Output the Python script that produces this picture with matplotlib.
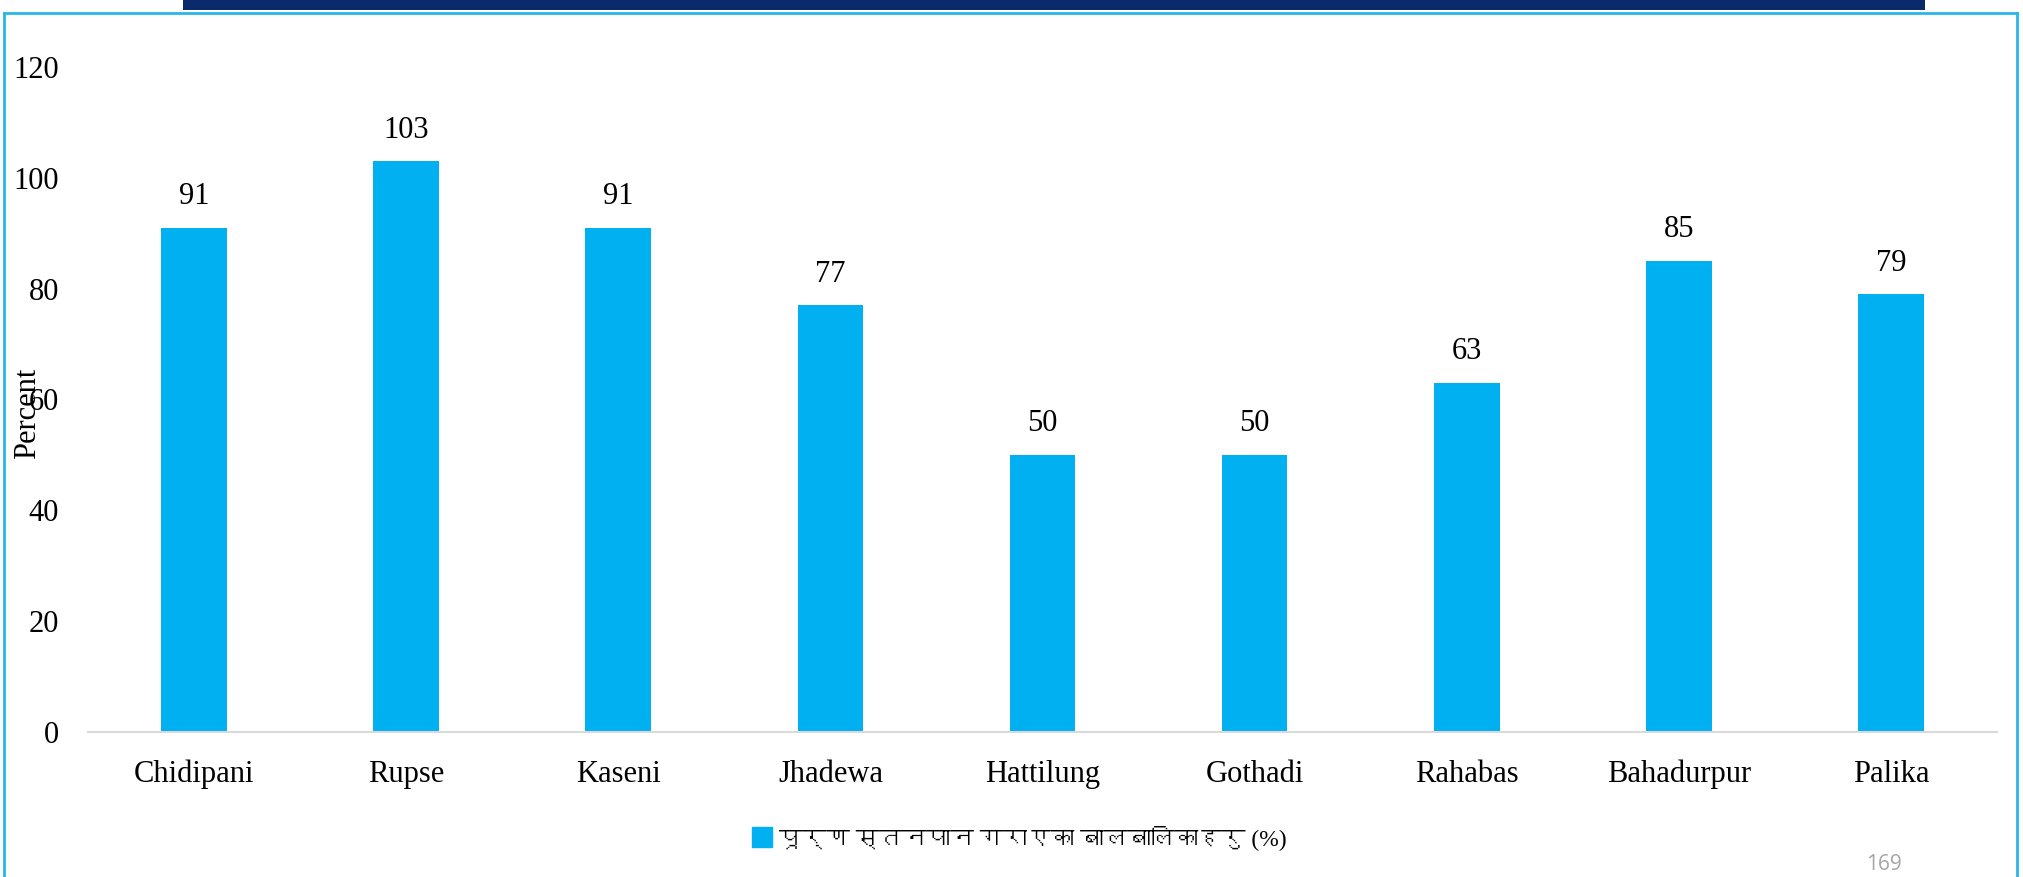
import matplotlib
matplotlib.use("Agg")
import matplotlib.pyplot as plt
from matplotlib import font_manager
from matplotlib.ft2font import FT2Font
from matplotlib.patches import Rectangle
from matplotlib.lines import Line2D

categories = ["Chidipani", "Rupse", "Kaseni", "Jhadewa", "Hattilung",
              "Gothadi", "Rahabas", "Bahadurpur", "Palika"]
values = [91, 103, 91, 77, 50, 50, 63, 85, 79]
yticks = [0, 20, 40, 60, 80, 100, 120]
series_name = "पूर्ण स्तनपान गराएका बालबालिकाहरु (%)"
y_label = "Percent"
page_no = "169"

W, H = 2023, 877
SERIF = "Liberation Serif"


def find_font(ch):
    for f in font_manager.fontManager.ttflist:
        try:
            ft = FT2Font(f.fname)
            if ft.get_char_index(ord(ch)):
                return f.name
        except Exception:
            pass
    return None


deva = find_font("प")
legend_family = [SERIF, deva] if deva else [SERIF]

fig = plt.figure(figsize=(W / 100, H / 100), dpi=100)
fig.patch.set_facecolor("white")

# axes placement (pixel based)
left, right, bottom, top = 88, 1997, 732, 67
ax = fig.add_axes([left / W, (H - bottom) / H, (right - left) / W, (bottom - top) / H])

x = range(len(categories))
ax.bar(x, values, width=0.31, color="#00B0F0", zorder=2)
for xi, v in zip(x, values):
    ax.annotate(f"{v}", (xi, v), xytext=(0, 17), textcoords="offset points",
                ha="center", va="baseline", fontsize=22, family=SERIF, color="black")

ax.set_xlim(-0.5, len(categories) - 0.5)
ax.set_ylim(0, 120)
ax.set_yticks(yticks)
ax.set_yticklabels([str(t) for t in yticks], family=SERIF, fontsize=22)
ax.set_xticks(list(x))
ax.set_xticklabels(categories, family=SERIF, fontsize=22)
ax.tick_params(axis="y", length=0, pad=21)
ax.tick_params(axis="x", length=0, pad=20)
for s in ["top", "right", "left"]:
    ax.spines[s].set_visible(False)
ax.spines["bottom"].set_color("#D9D9D9")
ax.spines["bottom"].set_linewidth(1.5)
ax.set_facecolor("none")

fig.text(28 / W, (H - 413) / H, y_label, rotation=90, ha="center", va="center",
         family=SERIF, fontsize=22)

# legend
handle = Line2D([], [], marker="s", linestyle="none", markersize=15,
                markerfacecolor="#00B0F0", markeredgecolor="#00B0F0")
fig.legend([handle], [series_name], loc="center", bbox_to_anchor=(0.504, 0.0445),
           frameon=False, handlelength=0.8, handletextpad=0.3,
           prop={"family": legend_family, "size": 17})

# decorative frame and title band
fig.add_artist(Rectangle((183 / W, (H - 10) / H), (1925 - 183) / W, 10 / H,
                         transform=fig.transFigure, facecolor="#0A2A6B",
                         edgecolor="none", zorder=5))
border_color = "#29B5EA"
fig.add_artist(Line2D([4 / W, 4 / W], [0, (H - 13) / H], transform=fig.transFigure,
                      color=border_color, lw=2, zorder=6))
fig.add_artist(Line2D([2017 / W, 2017 / W], [0, (H - 13) / H], transform=fig.transFigure,
                      color=border_color, lw=2, zorder=6))
fig.add_artist(Line2D([4 / W, 2017 / W], [(H - 13) / H, (H - 13) / H], transform=fig.transFigure,
                      color=border_color, lw=2, zorder=6))

fig.text(1884 / W, 2 / H, page_no, ha="center", va="bottom", fontsize=15,
         family="Open Sans", color="#A6A6A6")

fig.savefig("out.png", dpi=100)
